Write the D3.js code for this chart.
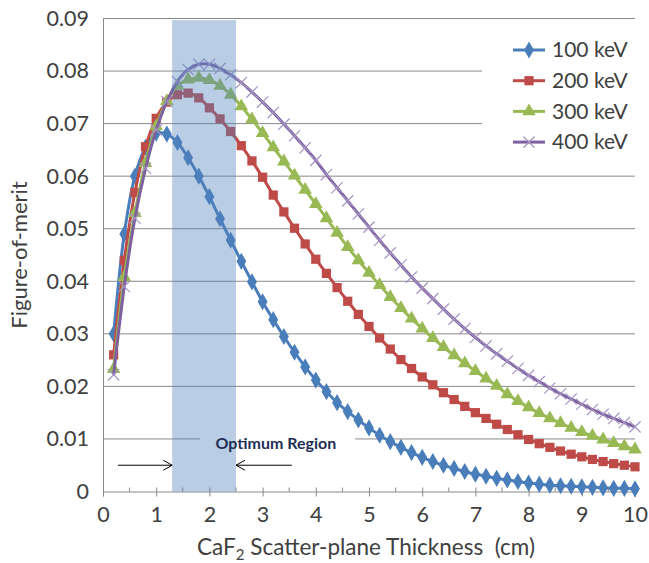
<!DOCTYPE html>
<html>
<head>
<meta charset="utf-8">
<script src="https://cdn.jsdelivr.net/npm/d3@7"></script>
<style>
  body { margin: 0; background: #fff; }
  text { font-family: Lato, "Open Sans", sans-serif; fill: #404040; }
</style>
</head>
<body>
<svg id="chart" width="649" height="563"></svg>
<script>
// figure-of-merit vs CaF2 scatter-plane thickness, 4 gamma energies

var thickness = [0.2,0.4,0.6,0.8,1.0,1.2,1.4,1.6,1.8,2.0,2.2,2.4,2.6,2.8,3.0,3.2,3.4,3.6,3.8,4.0,
  4.2,4.4,4.6,4.8,5.0,5.2,5.4,5.6,5.8,6.0,6.2,6.4,6.6,6.8,7.0,7.2,7.4,7.6,7.8,8.0,
  8.2,8.4,8.6,8.8,9.0,9.2,9.4,9.6,9.8,10.0];

var fom100 = [0.0300,0.0490,0.0600,0.0655,0.0682,0.0680,0.0664,0.0635,0.0600,0.0561,0.0519,0.0478,0.0438,0.0399,0.0361,0.0327,0.0295,0.0265,0.0237,0.0212,
  0.0190,0.0169,0.0152,0.0136,0.0121,0.0107,0.0095,0.0084,0.0074,0.0065,0.0057,0.0050,0.0044,0.0038,0.0033,0.0029,0.0025,0.0022,0.0019,0.0016,
  0.0014,0.0012,0.0011,0.0010,0.0009,0.0008,0.0007,0.0006,0.0006,0.0005];
var fom200 = [0.0260,0.0440,0.0569,0.0656,0.0710,0.0741,0.0755,0.0758,0.0749,0.0730,0.0709,0.0685,0.0658,0.0629,0.0598,0.0564,0.0532,0.0501,0.0471,0.0442,
  0.0415,0.0388,0.0362,0.0337,0.0314,0.0292,0.0271,0.0251,0.0234,0.0218,0.0203,0.0188,0.0175,0.0162,0.0150,0.0139,0.0128,0.0118,0.0108,0.0099,
  0.0091,0.0084,0.0077,0.0071,0.0066,0.0061,0.0057,0.0053,0.0050,0.0047];
var fom300 = [0.0233,0.0408,0.0530,0.0625,0.0695,0.0743,0.0772,0.0784,0.0787,0.0783,0.0772,0.0755,0.0733,0.0708,0.0682,0.0655,0.0628,0.0601,0.0574,0.0547,
  0.0520,0.0492,0.0465,0.0440,0.0416,0.0393,0.0370,0.0349,0.0329,0.0310,0.0292,0.0275,0.0259,0.0244,0.0229,0.0215,0.0201,0.0185,0.0172,0.0160,
  0.0149,0.0139,0.0130,0.0121,0.0113,0.0106,0.0099,0.0092,0.0086,0.0080];
var fom400 = [0.0222,0.0390,0.0520,0.0615,0.0688,0.0742,0.0780,0.0803,0.0813,0.0813,0.0805,0.0793,0.0778,0.0760,0.0741,0.0721,0.0699,0.0677,0.0654,0.0630,
  0.0603,0.0578,0.0553,0.0528,0.0503,0.0478,0.0454,0.0431,0.0408,0.0387,0.0367,0.0347,0.0328,0.0310,0.0293,0.0277,0.0262,0.0248,0.0234,0.0221,
  0.0209,0.0197,0.0186,0.0176,0.0166,0.0156,0.0147,0.0139,0.0131,0.0123];

var seriesNames = ["100 keV", "200 keV", "300 keV", "400 keV"];
var seriesValues = [fom100, fom200, fom300, fom400];
var seriesColors = ["#4a7ebb", "#be4b48", "#98b954", "#7d60a0"];
var seriesMarkers = ["diamond", "square", "triangle", "cross"];

var xTicks = [0,1,2,3,4,5,6,7,8,9,10];
var yTicks = [0,0.01,0.02,0.03,0.04,0.05,0.06,0.07,0.08,0.09];
var optimumRegion = [1.3, 2.5];

var svg = d3.select("#chart"),
    margin = {top: 18.5, right: 14, bottom: 71.5, left: 103},
    width = 649 - margin.left - margin.right,
    height = 563 - margin.top - margin.bottom,
    g = svg.append("g").attr("transform", "translate(" + margin.left + "," + margin.top + ")");

var x = d3.scaleLinear().domain([0, 10]).range([0, width]);
var y = d3.scaleLinear().domain([0, 0.09]).range([height, 0]);

// gridlines
g.append("g")
    .selectAll("line")
    .data(yTicks.slice(1))
    .enter().append("line")
    .attr("x1", 0).attr("x2", width)
    .attr("y1", function(d) { return y(d) }).attr("y2", function(d) { return y(d) })
    .attr("stroke", "#8a8a8a").attr("stroke-width", 1);

// y axis labels
var yAxis = g.append("g")
    .call(d3.axisLeft(y).tickValues(yTicks).tickSize(0).tickPadding(14)
        .tickFormat(function(d) { return d === 0 ? "0" : d3.format(".2f")(d) }));
yAxis.select(".domain").attr("stroke", "#8a8a8a");
yAxis.selectAll("text").style("font-size", "21.5px").attr("fill", "#404040");

// x axis
var xAxis = g.append("g")
    .attr("transform", "translate(0," + height + ")")
    .call(d3.axisBottom(x).tickValues(xTicks).tickSize(5).tickPadding(10));
xAxis.select(".domain").attr("stroke", "#8a8a8a");
xAxis.selectAll("line").attr("stroke", "#8a8a8a").attr("y1", -4);
xAxis.selectAll("text").style("font-size", "21.5px").attr("fill", "#404040");
g.append("g").selectAll("line")
    .data(xTicks.slice(0, -1).map(function(d) { return d + 0.5 }))
    .enter().append("line")
    .attr("x1", function(d) { return x(d) }).attr("x2", function(d) { return x(d) })
    .attr("y1", height - 4).attr("y2", height)
    .attr("stroke", "#8a8a8a");

// white box behind the annotation text (under the band)
g.append("rect")
    .attr("x", x(1.82)).attr("y", y(0.0113))
    .attr("width", x(4.74) - x(1.82)).attr("height", y(0.0072) - y(0.0113))
    .attr("fill", "#fff");

// series
var line = d3.line()
    .x(function(d) { return x(d[0]) })
    .y(function(d) { return y(d[1]) })
    .curve(d3.curveCatmullRom.alpha(0.5));

var symbolFor = {
  diamond: d3.symbol().type(d3.symbolDiamond).size(85),
  square: d3.symbol().type(d3.symbolSquare).size(85),
  triangle: d3.symbol().type(d3.symbolTriangle).size(80),
  cross: d3.symbol().type(d3.symbolX).size(85)
};

function drawMarker(sel, kind, color) {
  sel.append("path")
    .attr("d", symbolFor[kind])
    .attr("fill", kind === "cross" ? "none" : color)
    .attr("stroke", kind === "cross" ? "#a594c2" : "none")
    .attr("stroke-width", 1.2);
}

seriesValues.forEach(function(vals, i) {
  var pts = thickness.map(function(t, j) { return [t, vals[j]] });
  var sg = g.append("g");
  sg.append("path")
    .datum(pts)
    .attr("d", line)
    .attr("fill", "none")
    .attr("stroke", seriesColors[i])
    .attr("stroke-width", 3);
  sg.selectAll("g.pt")
    .data(pts)
    .enter().append("g")
    .attr("class", "pt")
    .attr("transform", function(d) { return "translate(" + x(d[0]) + "," + y(d[1]) + ")" })
    .each(function() { drawMarker(d3.select(this), seriesMarkers[i], seriesColors[i]) });
});

// optimum band (translucent, on top of the curves)
g.append("rect")
    .attr("x", x(optimumRegion[0]))
    .attr("y", y(0.0897))
    .attr("width", x(optimumRegion[1]) - x(optimumRegion[0]))
    .attr("height", y(0) - y(0.0897))
    .attr("fill", "#4f81bd")
    .attr("fill-opacity", 0.4);

// annotation
g.append("text")
    .attr("x", x(3.25)).attr("y", y(0.0092))
    .attr("text-anchor", "middle").attr("dy", "0.35em")
    .style("font-size", "16px").style("font-weight", "bold")
    .style("fill", "#1f2f56")
    .text("Optimum Region");

function arrow(from, to) {
  var yy = y(0.0050), dir = to > from ? 1 : -1;
  var a = g.append("g").attr("stroke", "#000").attr("stroke-width", 1).attr("fill", "none");
  a.append("line").attr("x1", x(from)).attr("x2", x(to)).attr("y1", yy).attr("y2", yy);
  a.append("path").attr("d", "M" + (x(to) - dir * 9) + "," + (yy - 5) + "L" + x(to) + "," + yy + "L" + (x(to) - dir * 9) + "," + (yy + 5));
}
arrow(0.28, optimumRegion[0]);
arrow(3.55, optimumRegion[1]);

// legend
var legend = svg.append("g");
legend.append("rect").attr("x", 482).attr("y", 30).attr("width", 163).attr("height", 130).attr("fill", "#fff");
seriesNames.forEach(function(name, i) {
  var ly = 50 + i * 30.7;
  var row = legend.append("g").attr("transform", "translate(0," + ly + ")");
  row.append("line").attr("x1", 513).attr("x2", 545).attr("y1", 0).attr("y2", 0)
    .attr("stroke", seriesColors[i]).attr("stroke-width", 3);
  drawMarker(row.append("g").attr("transform", "translate(529,0)"), seriesMarkers[i], seriesColors[i]);
  row.append("text").attr("x", 552).attr("y", 0).attr("dy", "0.35em")
    .style("font-size", "21px").text(name);
});

// axis titles
var xt = svg.append("text")
    .attr("x", 366).attr("y", 555)
    .attr("text-anchor", "middle")
    .style("font-size", "22.5px");
xt.append("tspan").text("CaF");
xt.append("tspan").attr("dy", 5).style("font-size", "15px").text("2");
xt.append("tspan").attr("dy", -5).text("\u00a0Scatter-plane Thickness\u00a0 (cm)");

svg.append("text")
    .attr("transform", "translate(27,255) rotate(-90)")
    .attr("text-anchor", "middle")
    .style("font-size", "22px")
    .text("Figure-of-merit");
</script>
</body>
</html>
